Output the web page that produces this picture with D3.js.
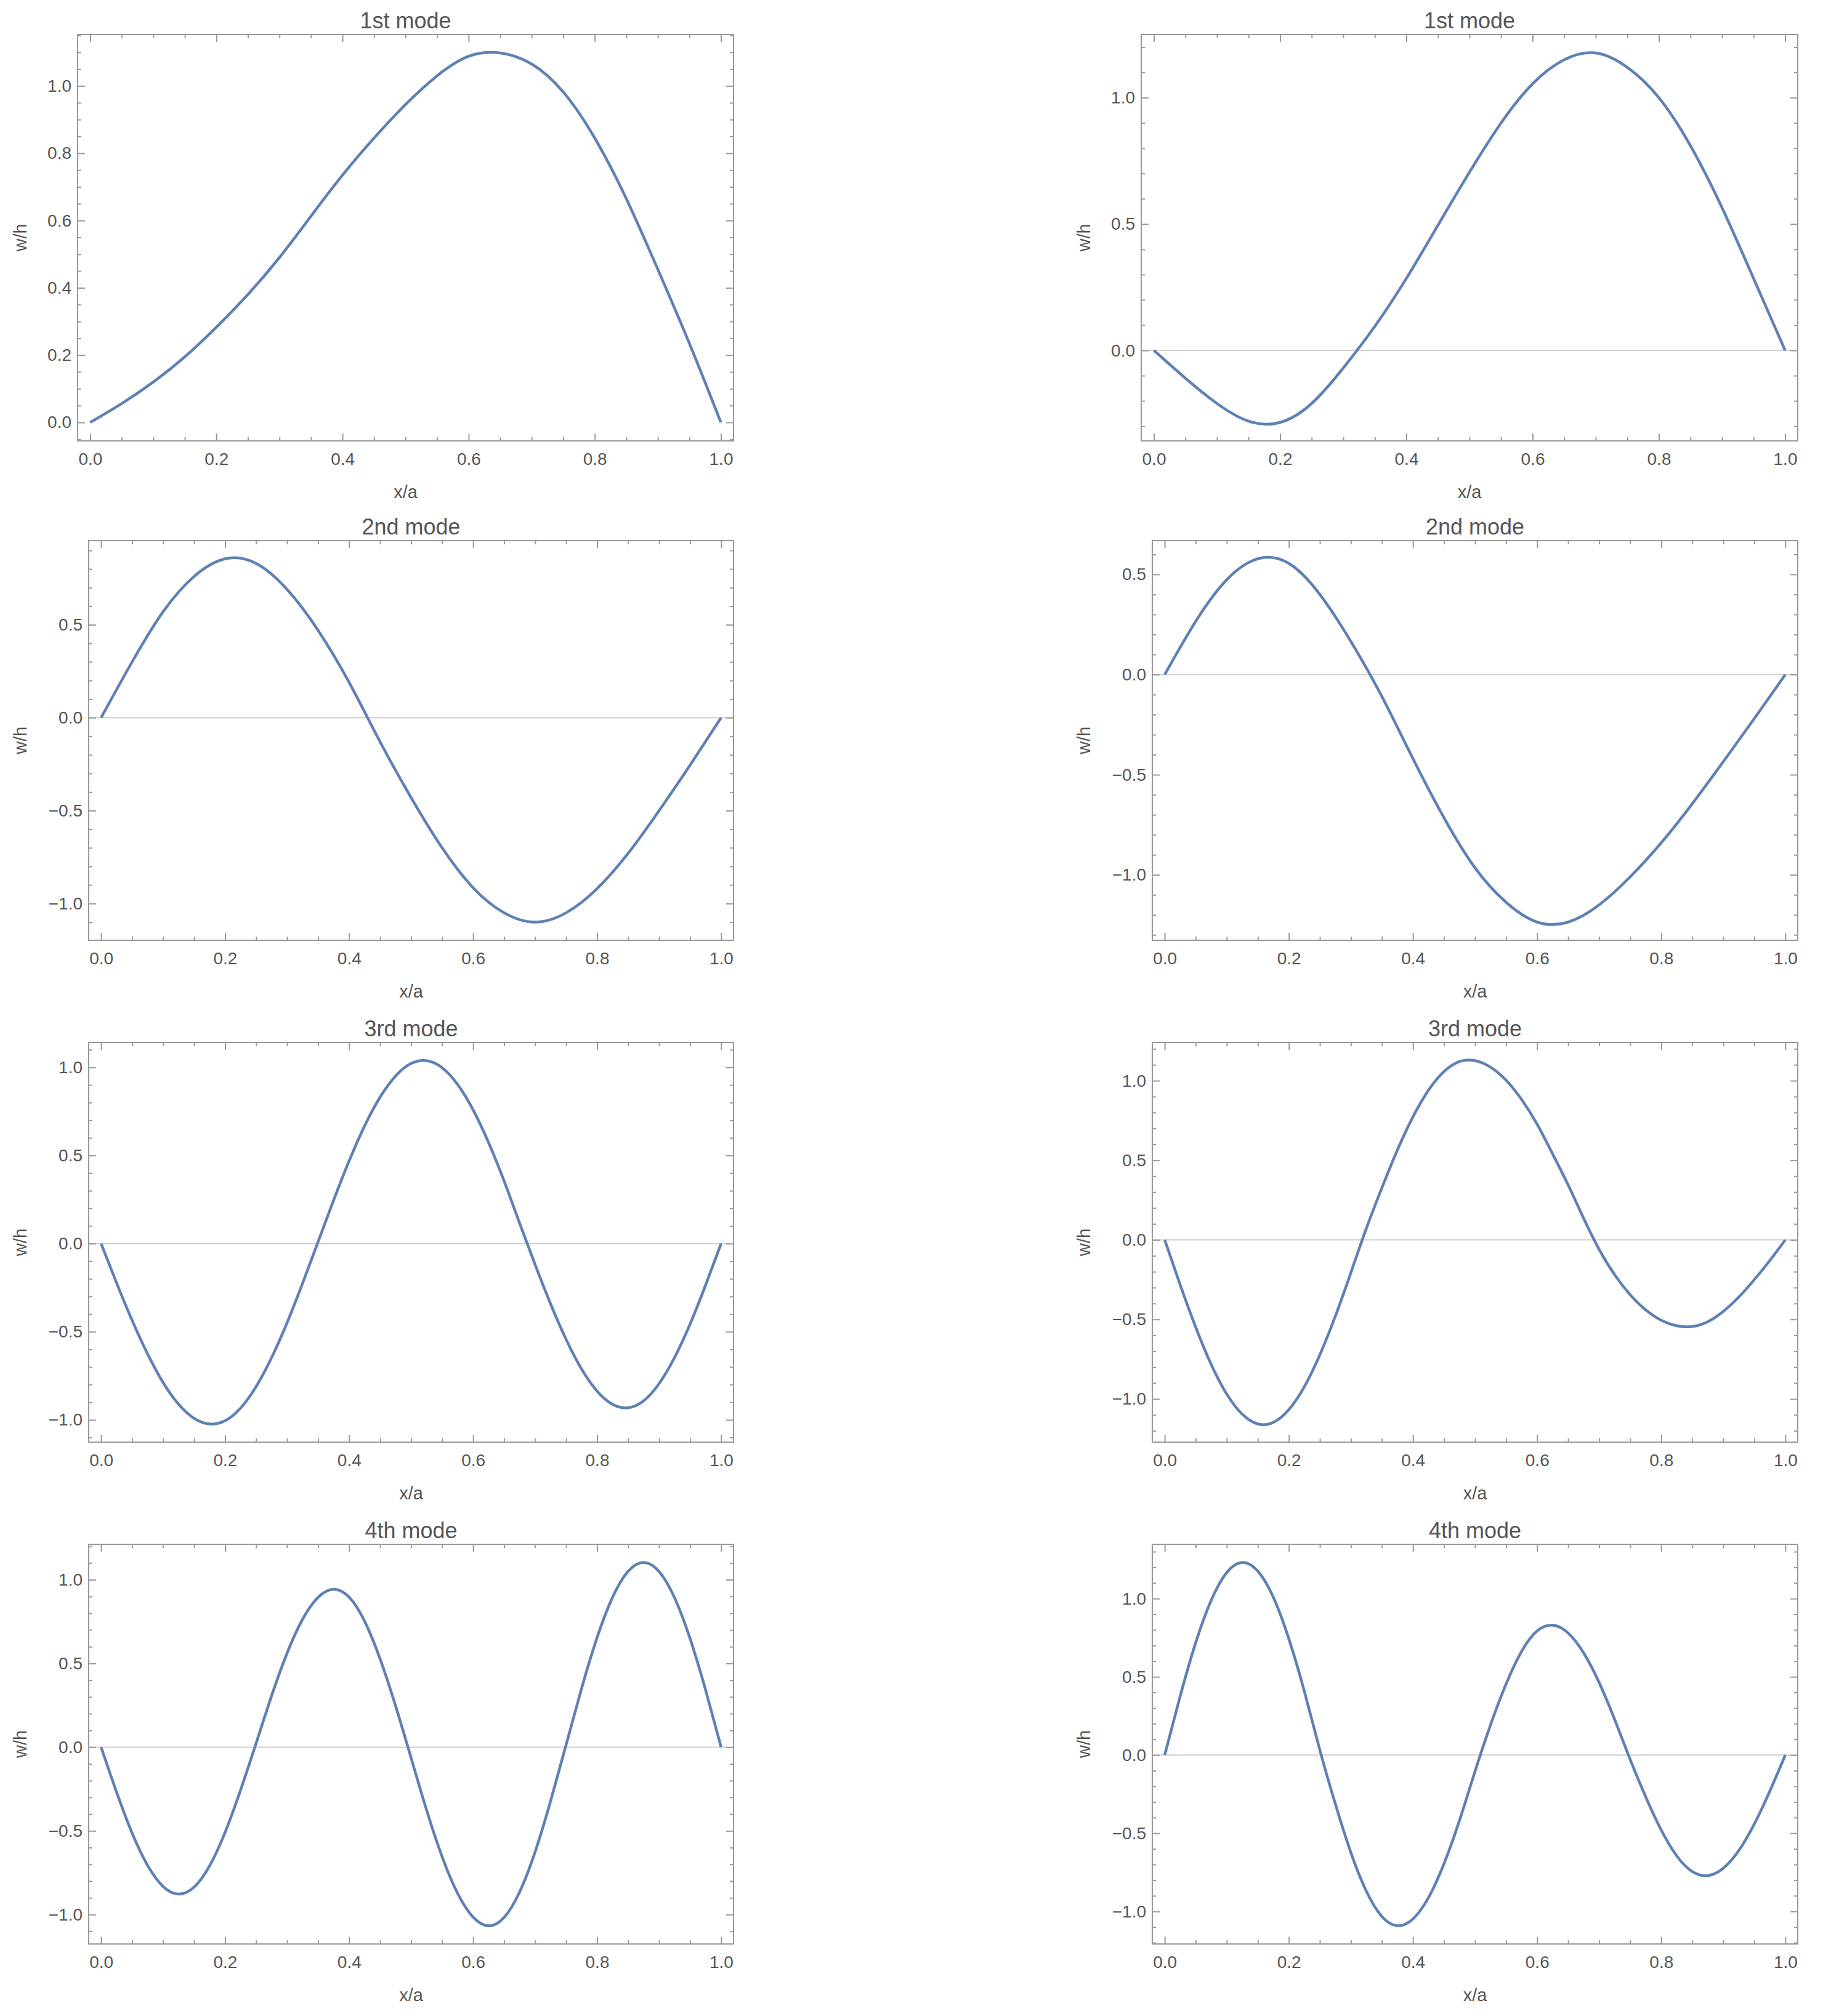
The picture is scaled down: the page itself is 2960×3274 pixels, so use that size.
<!DOCTYPE html>
<html>
<head>
<meta charset="utf-8">
<script src="https://cdn.jsdelivr.net/npm/d3@7"></script>
<style>
  body { margin: 0; background: #fff; }
  svg text { font-family: "Liberation Sans", Arial, sans-serif; fill: #555; }
</style>
</head>
<body>
<svg id="chart" width="2960" height="3274"></svg>
<script>
// sample positions along the beam (x/a)
const xsCoarse = [0, 0.05, 0.1, 0.15, 0.2, 0.25, 0.3, 0.35, 0.4, 0.45, 0.5,
  0.55, 0.6, 0.65, 0.7, 0.75, 0.8, 0.85, 0.9, 0.95, 1];
const xsFine = [0, 0.025, 0.05, 0.075, 0.1, 0.125, 0.15, 0.175, 0.2, 0.225, 0.25,
  0.275, 0.3, 0.325, 0.35, 0.375, 0.4, 0.425, 0.45, 0.475, 0.5,
  0.525, 0.55, 0.575, 0.6, 0.625, 0.65, 0.675, 0.7, 0.725, 0.75,
  0.775, 0.8, 0.825, 0.85, 0.875, 0.9, 0.925, 0.95, 0.975, 1];

// w/h
const mode1Left = [0, 0.056, 0.12, 0.195, 0.283, 0.38, 0.49, 0.613, 0.735, 0.845, 0.945,
  1.03, 1.088, 1.098, 1.065, 0.982, 0.845, 0.665, 0.455, 0.235, 0];
const mode1Right = [0, -0.11, -0.21, -0.28, -0.285, -0.21, -0.07, 0.095, 0.285, 0.495, 0.705,
  0.9, 1.055, 1.15, 1.177, 1.12, 1.0, 0.81, 0.565, 0.285, 0];
const mode2Left = [0, 0.3, 0.57, 0.76, 0.855, 0.83, 0.69, 0.47, 0.19, -0.13, -0.43,
  -0.7, -0.915, -1.05, -1.1, -1.05, -0.92, -0.73, -0.5, -0.255, 0];
const mode2Right = [0, 0.266, 0.474, 0.578, 0.555, 0.4, 0.165, -0.11, -0.42, -0.715, -0.965,
  -1.137, -1.236, -1.236, -1.15, -1.01, -0.84, -0.645, -0.435, -0.22, 0];
const mode3Left = [0, -0.223, -0.435, -0.626, -0.788, -0.911, -0.991, -1.023, -1.005, -0.933, -0.811,
  -0.647, -0.449, -0.225, 0.01, 0.246, 0.469, 0.668, 0.831, 0.951, 1.022,
  1.038, 0.998, 0.903, 0.759, 0.573, 0.355, 0.116, -0.119, -0.342, -0.543,
  -0.712, -0.837, -0.912, -0.931, -0.892, -0.794, -0.646, -0.456, -0.235, 0];
const mode3Right = [0, -0.284, -0.55, -0.784, -0.97, -1.096, -1.157, -1.147, -1.067, -0.923, -0.722,
  -0.479, -0.206, 0.073, 0.327, 0.565, 0.773, 0.94, 1.058, 1.121, 1.126,
  1.085, 1.003, 0.882, 0.727, 0.54, 0.345, 0.135, -0.06, -0.22, -0.345,
  -0.44, -0.505, -0.54, -0.545, -0.515, -0.45, -0.36, -0.25, -0.13, 0];
const mode4Left = [0, -0.269, -0.513, -0.706, -0.832, -0.878, -0.836, -0.709, -0.509, -0.256, 0.023,
  0.307, 0.562, 0.764, 0.895, 0.943, 0.896, 0.753, 0.527, 0.246, -0.064,
  -0.376, -0.654, -0.873, -1.015, -1.067, -1.017, -0.865, -0.626, -0.322, 0.014,
  0.351, 0.655, 0.896, 1.05, 1.103, 1.049, 0.892, 0.648, 0.341, 0];
const mode4Right = [0, 0.378, 0.719, 0.99, 1.167, 1.231, 1.176, 1.009, 0.743, 0.407, 0.031,
  -0.314, -0.624, -0.872, -1.033, -1.092, -1.048, -0.912, -0.695, -0.418, -0.104,
  0.193, 0.454, 0.663, 0.793, 0.83, 0.78, 0.653, 0.463, 0.227, -0.029,
  -0.268, -0.48, -0.645, -0.745, -0.771, -0.724, -0.611, -0.441, -0.231, 0];

const modeTitles = ["1st mode", "2nd mode", "3rd mode", "4th mode"];
const xTickValues = [0, 0.2, 0.4, 0.6, 0.8, 1.0];
const xTickLabels = ["0.0", "0.2", "0.4", "0.6", "0.8", "1.0"];
const xLabel = "x/a";
const yLabel = "w/h";

// panel boxes: [left, right, top, bottom] of the frame
const frames = [
  [126, 1191, 56, 716], [1853, 2919, 56, 716],
  [144, 1191, 878, 1527], [1871, 2919, 878, 1527],
  [144, 1191, 1693, 2342], [1871, 2919, 1693, 2342],
  [144, 1191, 2508, 3157], [1871, 2919, 2508, 3157]
];
const yLabelX = [43, 1770];

const panels = [
  { values: mode1Left, xs: xsCoarse, step: 0.2, minor: 0.05, zero: false },
  { values: mode1Right, xs: xsCoarse, step: 0.5, minor: 0.1, zero: true },
  { values: mode2Left, xs: xsCoarse, step: 0.5, minor: 0.1, zero: true },
  { values: mode2Right, xs: xsCoarse, step: 0.5, minor: 0.1, zero: true },
  { values: mode3Left, xs: xsFine, step: 0.5, minor: 0.1, zero: true },
  { values: mode3Right, xs: xsFine, step: 0.5, minor: 0.1, zero: true },
  { values: mode4Left, xs: xsFine, step: 0.5, minor: 0.1, zero: true },
  { values: mode4Right, xs: xsFine, step: 0.5, minor: 0.1, zero: true }
];

const svg = d3.select("#chart");
const fmt = d3.format(".1f");
const frameColor = "#9a9a9a";

function stepTicks(lo, hi, step) {
  return d3.range(Math.ceil(lo / step - 1e-9), Math.floor(hi / step + 1e-9) + 1)
    .map(k => +(k * step).toFixed(3));
}

function styleAxis(a) {
  a.select(".domain").remove();
  a.attr("font-size", null).attr("font-family", null).attr("color", frameColor);
  a.selectAll(".tick line").attr("stroke-width", 2);
  a.selectAll(".tick text").style("font-size", "28px");
}

panels.forEach((p, i) => {
  const [x0, x1, y0, y1] = frames[i];
  const col = i % 2;
  const row = Math.floor(i / 2);

  const x = d3.scaleLinear().domain([-0.02, 1.02]).range([x0, x1]);
  const [lo, hi] = d3.extent(p.values);
  const pad = (hi - lo) * 0.05;
  const y = d3.scaleLinear().domain([lo - pad, hi + pad]).range([y1, y0]);

  const g = svg.append("g");

  const yMajor = stepTicks(lo - pad, hi + pad, p.step);
  const yMinor = stepTicks(lo - pad, hi + pad, p.minor).filter(v => !yMajor.some(m => Math.abs(m - v) < 1e-6));
  const xMinor = stepTicks(-0.02, 1.02, 0.05).filter(v => !xTickValues.some(m => Math.abs(m - v) < 1e-6));

  // zero line
  if (p.zero) {
    g.append("line")
      .attr("x1", x0).attr("x2", x1)
      .attr("y1", y(0)).attr("y2", y(0))
      .attr("stroke", "#cfcfcf")
      .attr("stroke-width", 2);
  }

  // curve
  const line = d3.line()
    .x((d, k) => x(p.xs[k]))
    .y(d => y(d))
    .curve(d3.curveNatural);

  g.append("path")
    .datum(p.values)
    .attr("fill", "none")
    .attr("stroke", "#5e81b5")
    .attr("stroke-width", 4.5)
    .attr("d", line);

  // frame ticks, all four sides
  g.append("g").attr("transform", `translate(0,${y1})`)
    .call(d3.axisBottom(x).tickValues(xTickValues)
      .tickFormat((d, k) => xTickLabels[k]).tickSize(-12).tickPadding(19))
    .call(styleAxis);
  g.append("g").attr("transform", `translate(0,${y1})`)
    .call(d3.axisBottom(x).tickValues(xMinor).tickFormat("").tickSize(-6))
    .call(styleAxis);
  g.append("g").attr("transform", `translate(0,${y0})`)
    .call(d3.axisTop(x).tickValues(xTickValues).tickFormat("").tickSize(-12))
    .call(styleAxis);
  g.append("g").attr("transform", `translate(0,${y0})`)
    .call(d3.axisTop(x).tickValues(xMinor).tickFormat("").tickSize(-6))
    .call(styleAxis);

  g.append("g").attr("transform", `translate(${x0},0)`)
    .call(d3.axisLeft(y).tickValues(yMajor).tickFormat(fmt).tickSize(-12).tickPadding(10))
    .call(styleAxis);
  g.append("g").attr("transform", `translate(${x0},0)`)
    .call(d3.axisLeft(y).tickValues(yMinor).tickFormat("").tickSize(-6))
    .call(styleAxis);
  g.append("g").attr("transform", `translate(${x1},0)`)
    .call(d3.axisRight(y).tickValues(yMajor).tickFormat("").tickSize(-12))
    .call(styleAxis);
  g.append("g").attr("transform", `translate(${x1},0)`)
    .call(d3.axisRight(y).tickValues(yMinor).tickFormat("").tickSize(-6))
    .call(styleAxis);

  // frame
  g.append("rect")
    .attr("x", x0).attr("y", y0)
    .attr("width", x1 - x0).attr("height", y1 - y0)
    .attr("fill", "none")
    .attr("stroke", frameColor)
    .attr("stroke-width", 2);

  // labels
  g.append("text")
    .attr("x", (x0 + x1) / 2).attr("y", y0 - 10)
    .attr("text-anchor", "middle")
    .style("font-size", "36px")
    .text(modeTitles[row]);

  g.append("text")
    .attr("x", (x0 + x1) / 2).attr("y", y1 + 93)
    .attr("text-anchor", "middle")
    .style("font-size", "29px")
    .text(xLabel);

  g.append("text")
    .attr("transform", `translate(${yLabelX[col]},${(y0 + y1) / 2}) rotate(-90)`)
    .attr("text-anchor", "middle")
    .style("font-size", "29px")
    .text(yLabel);
});
</script>
</body>
</html>
